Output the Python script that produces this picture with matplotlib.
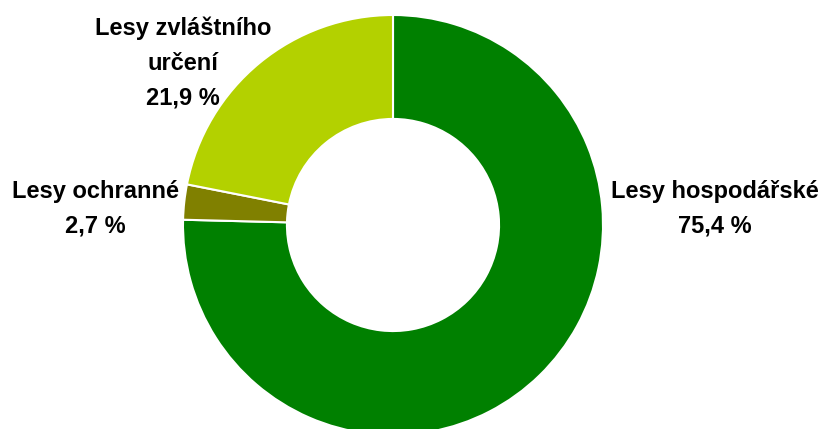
import matplotlib.pyplot as plt

# Struktura lesů podle kategorií
kategorie = ['Lesy hospodářské', 'Lesy ochranné', 'Lesy zvláštního\nurčení']
podil = [75.4, 2.7, 21.9]
barvy = ['#008000', '#808000', '#B3D100']

plt.rcParams['font.family'] = ['Liberation Sans', 'DejaVu Sans']

W, H = 822, 429
fig = plt.figure(figsize=(W / 100, H / 100), dpi=100)

# osa pro donut (stred ~ (393, 225) px, polomer ~210 px)
cx, cy, r = 393, 225, 210
ax = fig.add_axes([(cx - r) / W, (H - cy - r) / H, 2 * r / W, 2 * r / H])
ax.pie(podil, colors=barvy, startangle=90, counterclock=False, radius=1,
       wedgeprops=dict(width=0.495, edgecolor='white', linewidth=1.5))
ax.set_xlim(-1, 1)
ax.set_ylim(-1, 1)
ax.set_aspect('equal')
ax.axis('off')

# popisky
pozice = [(715, 209), (95, 209), (183, 63)]
for k, p, (x, y) in zip(kategorie, podil, pozice):
    txt = k + '\n' + ('%.1f %%' % p).replace('.', ',')
    fig.text(x / W, 1 - y / H, txt, ha='center', va='center', ma='center',
             fontsize=17, fontweight='bold', linespacing=1.65)

plt.savefig('out.png', dpi=100)
